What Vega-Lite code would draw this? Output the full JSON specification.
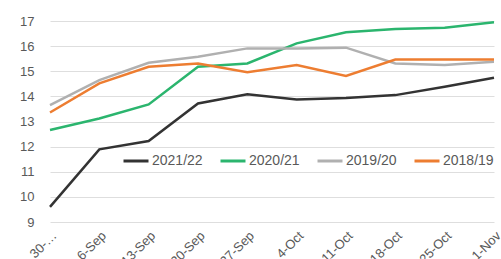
{
  "$schema": "https://vega.github.io/schema/vega-lite/v6.json",
  "autosize": {"type": "none"},
  "width": 444,
  "height": 201,
  "padding": {"left": 50, "top": 21, "right": 7, "bottom": 37},
  "background": "white",
  "config": {
    "view": {"stroke": null},
    "font": "Liberation Sans"
  },
  "data": {
    "values": [
      {"week": "30-Aug", "season": "2021/22", "value": 9.6},
      {"week": "6-Sep", "season": "2021/22", "value": 11.89},
      {"week": "13-Sep", "season": "2021/22", "value": 12.22},
      {"week": "20-Sep", "season": "2021/22", "value": 13.72},
      {"week": "27-Sep", "season": "2021/22", "value": 14.08},
      {"week": "4-Oct", "season": "2021/22", "value": 13.88},
      {"week": "11-Oct", "season": "2021/22", "value": 13.94},
      {"week": "18-Oct", "season": "2021/22", "value": 14.05},
      {"week": "25-Oct", "season": "2021/22", "value": 14.38},
      {"week": "1-Nov", "season": "2021/22", "value": 14.74},
      {"week": "30-Aug", "season": "2020/21", "value": 12.66},
      {"week": "6-Sep", "season": "2020/21", "value": 13.12},
      {"week": "13-Sep", "season": "2020/21", "value": 13.68},
      {"week": "20-Sep", "season": "2020/21", "value": 15.18},
      {"week": "27-Sep", "season": "2020/21", "value": 15.31},
      {"week": "4-Oct", "season": "2020/21", "value": 16.11},
      {"week": "11-Oct", "season": "2020/21", "value": 16.55},
      {"week": "18-Oct", "season": "2020/21", "value": 16.68},
      {"week": "25-Oct", "season": "2020/21", "value": 16.73},
      {"week": "1-Nov", "season": "2020/21", "value": 16.95},
      {"week": "30-Aug", "season": "2019/20", "value": 13.65},
      {"week": "6-Sep", "season": "2019/20", "value": 14.65},
      {"week": "13-Sep", "season": "2019/20", "value": 15.34},
      {"week": "20-Sep", "season": "2019/20", "value": 15.58},
      {"week": "27-Sep", "season": "2019/20", "value": 15.91},
      {"week": "4-Oct", "season": "2019/20", "value": 15.91},
      {"week": "11-Oct", "season": "2019/20", "value": 15.94},
      {"week": "18-Oct", "season": "2019/20", "value": 15.31},
      {"week": "25-Oct", "season": "2019/20", "value": 15.25},
      {"week": "1-Nov", "season": "2019/20", "value": 15.38},
      {"week": "30-Aug", "season": "2018/19", "value": 13.36},
      {"week": "6-Sep", "season": "2018/19", "value": 14.52},
      {"week": "13-Sep", "season": "2018/19", "value": 15.18},
      {"week": "20-Sep", "season": "2018/19", "value": 15.31},
      {"week": "27-Sep", "season": "2018/19", "value": 14.96},
      {"week": "4-Oct", "season": "2018/19", "value": 15.25},
      {"week": "11-Oct", "season": "2018/19", "value": 14.81},
      {"week": "18-Oct", "season": "2018/19", "value": 15.47},
      {"week": "25-Oct", "season": "2018/19", "value": 15.47},
      {"week": "1-Nov", "season": "2018/19", "value": 15.47}
    ]
  },
  "mark": {"type": "line", "strokeWidth": 2.5},
  "encoding": {
    "x": {
      "field": "week",
      "type": "ordinal",
      "sort": null,
      "scale": {"type": "point", "padding": 0},
      "axis": {
        "title": null,
        "labelAngle": -45,
        "labelExpr": "datum.value == '30-Aug' ? '30-…' : datum.value",
        "labelFont": "Liberation Sans",
        "labelFontSize": 13,
        "labelColor": "#595959",
        "labelPadding": 7,
        "labelDx": 6,
        "ticks": false,
        "domain": false,
        "grid": false
      }
    },
    "y": {
      "field": "value",
      "type": "quantitative",
      "scale": {"domain": [9, 17], "nice": false, "zero": false},
      "axis": {
        "title": null,
        "values": [9, 10, 11, 12, 13, 14, 15, 16, 17],
        "labelFont": "Liberation Sans",
        "labelFontSize": 13,
        "labelColor": "#595959",
        "labelPadding": 16,
        "ticks": false,
        "domain": false,
        "grid": true,
        "gridColor": "#dedede",
        "gridWidth": 1
      }
    },
    "color": {
      "field": "season",
      "type": "nominal",
      "scale": {
        "domain": ["2021/22", "2020/21", "2019/20", "2018/19"],
        "range": ["#333333", "#2bb56e", "#b0b0b0", "#ed7d31"]
      },
      "legend": {
        "title": null,
        "orient": "none",
        "direction": "horizontal",
        "legendX": 72,
        "legendY": 126,
        "symbolType": "stroke",
        "symbolSize": 625,
        "symbolStrokeWidth": 3,
        "labelFont": "Liberation Sans",
        "labelFontSize": 14,
        "labelColor": "#595959",
        "labelOffset": 2,
        "columnPadding": 11
      }
    }
  }
}
